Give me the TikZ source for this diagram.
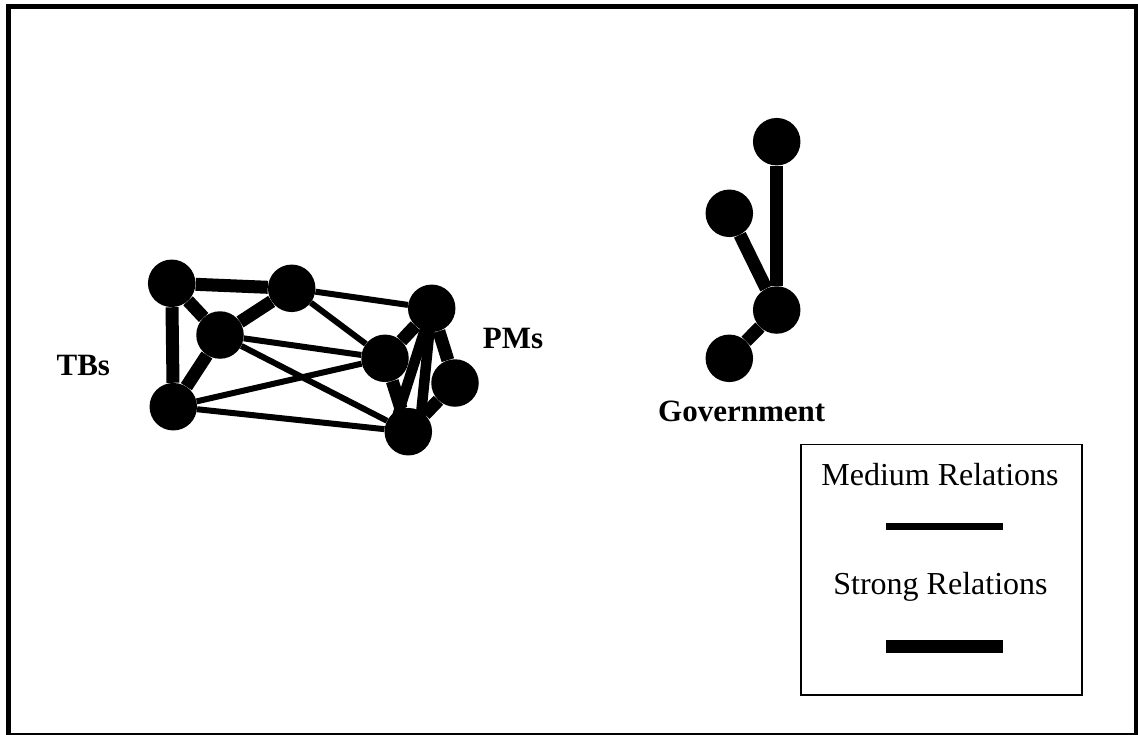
\documentclass[tikz,border=0pt]{standalone}
\usepackage{fontspec}
\setmainfont{Liberation Serif}
\begin{document}
\begin{tikzpicture}[x=1pt,y=-1pt,
  actor/.style={circle,fill=black,inner sep=0pt,minimum size=47.5pt},
  medium/.style={line width=6pt},
  strong/.style={line width=13pt},
  grouplabel/.style={anchor=base,font=\fontsize{31}{36}\selectfont\bfseries,inner sep=0pt},
  legendtext/.style={anchor=base,font=\fontsize{32}{38}\selectfont,inner sep=0pt}]
\useasboundingbox (0,0) rectangle (1138,734);
% outer frame
\draw[line width=5pt] (8.5,6.5) rectangle (1136.5,735.5);

% TBs and PMs cluster
\node[actor] (A) at (171.7,283.3) {};
\node[actor] (B) at (291.7,288.3) {};
\node[actor] (C) at (220,335) {};
\node[actor] (D) at (173.3,406.7) {};
\node[actor] (E) at (385,358.3) {};
\node[actor] (F) at (431.7,308.3) {};
\node[actor] (G) at (455,383) {};
\node[actor] (H) at (408.3,431.7) {};

\draw[strong] (A) -- (B);
\draw[strong] (A) -- (D);
\draw[strong] (A) -- (C);
\draw[strong] (B) -- (C);
\draw[strong] (C) -- (D);
\draw[medium] (B) -- (F);
\draw[medium] (B) -- (E);
\draw[medium] (C) -- (E);
\draw[medium] (C) -- (H);
\draw[medium] (D) -- (E);
\draw[medium] (D) -- (H);
\draw[strong] (E) -- (F);
\draw[strong] (E) -- (H);
\draw[strong] (F) -- (G);
\draw[strong] (G) -- (H);
\draw[line width=10.5pt] (F.center) -- ([xshift=-16pt]H.center);
\draw[line width=10.5pt] (F.center) -- ([xshift=11pt]H.center);

\node[grouplabel] (tbs) at (83.3,375) {TBs};
\node[grouplabel] (pms) at (513,348.3) {PMs};

% Government cluster
\node[actor] (G1) at (776.7,141.7) {};
\node[actor] (G2) at (729.3,213.3) {};
\node[actor] (G3) at (776.7,310) {};
\node[actor] (G4) at (729.3,358.3) {};
\draw[strong] (G1) -- (G3);
\draw[strong] (G2) -- (G3);
\draw[strong] (G3) -- (G4);
\node[grouplabel] (gov) at (741.7,421.7) {Government};

% legend
\node[draw,line width=1.5pt,minimum width=281pt,minimum height=250.5pt,inner sep=0pt]
  (legend) at (941.3,569.9) {};
\node[legendtext] (medtext) at (940,485) {Medium Relations};
\node[legendtext] (strtext) at (940.5,594) {Strong Relations};
\coordinate (m1) at (886,526.7);
\coordinate (m2) at (1003.3,526.7);
\coordinate (s1) at (886,646.3);
\coordinate (s2) at (1003.3,646.3);
\draw[line width=6.5pt] (m1) -- (m2);
\draw[line width=12.7pt] (s1) -- (s2);
\end{tikzpicture}
\end{document}
